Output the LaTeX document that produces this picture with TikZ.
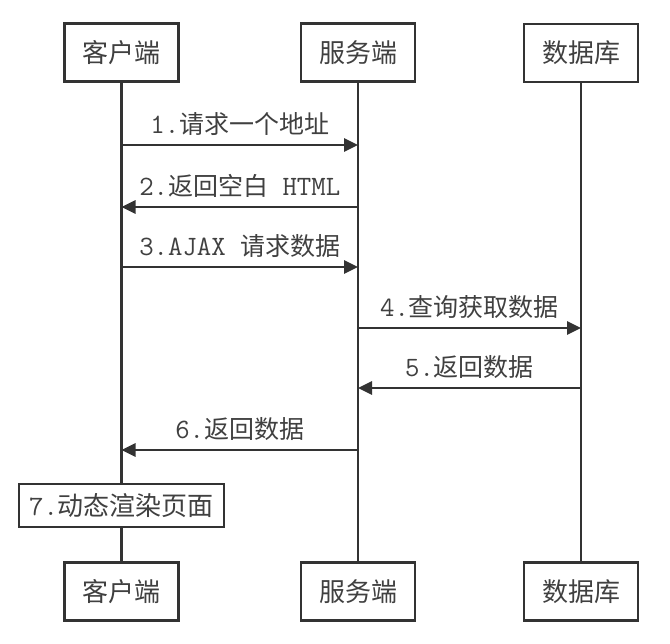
\documentclass[tikz,border=0pt]{standalone}
\usepackage{fontspec}
\setmainfont{Noto Sans CJK SC}
\usetikzlibrary{arrows.meta}
\newcommand\en[1]{{\ttfamily\fontsize{28}{28}\selectfont #1}}
\tikzset{
  actor/.style={draw=black!80,line width=2.8pt,fill=white,minimum width=114pt,
    minimum height=58pt,inner sep=0pt,text=black!75,font=\fontsize{26}{28}\selectfont},
  task/.style={actor,minimum width=205pt,minimum height=43pt},
  life/.style={draw=black!80,line width=2.8pt},
  msg/.style={life,->},
  lbl/.style={above=6pt,inner sep=2pt,text=black!75,font=\fontsize{25}{27}\selectfont}
}
\begin{document}
\begin{tikzpicture}[>={Triangle[length=14pt,width=13pt]},x=1pt,y=-1pt]
  \useasboundingbox (0,0) rectangle (670,644);
  % participants, top and bottom
  \node[actor] (cli) at (121.5,52.5) {客户端};
  \node[actor] (srv) at (358,52.5) {服务端};
  \node[actor] (db) at (581,53) {数据库};
  \node[actor] (cliB) at (121.5,591.5) {客户端};
  \node[actor] (srvB) at (358,591.5) {服务端};
  \node[actor] (dbB) at (581,591.5) {数据库};
  \node[task] (render) at (121.5,505.5) {\en{7.}动态渲染页面};
  % lifelines
  \draw[life] (cli) -- (render) -- (cliB);
  \draw[life] (srv) -- (srvB);
  \draw[life] (db) -- (dbB);
  % message heights
  \coordinate (m1) at (0,145);
  \coordinate (m2) at (0,207);
  \coordinate (m3) at (0,267);
  \coordinate (m4) at (0,328);
  \coordinate (m5) at (0,388);
  \coordinate (m6) at (0,450);
  % messages
  \draw[msg] (cli |- m1) -- (srv |- m1) node[midway,lbl] {\en{1.}请求一个地址};
  \draw[msg] (srv |- m2) -- (cli |- m2) node[midway,lbl] {\en{2.}返回空白\en{ HTML}};
  \draw[msg] (cli |- m3) -- (srv |- m3) node[midway,lbl] {\en{3.AJAX }请求数据};
  \draw[msg] (srv |- m4) -- (db |- m4) node[midway,lbl] {\en{4.}查询获取数据};
  \draw[msg] (db |- m5) -- (srv |- m5) node[midway,lbl] {\en{5.}返回数据};
  \draw[msg] (srv |- m6) -- (cli |- m6) node[midway,lbl] {\en{6.}返回数据};
\end{tikzpicture}
\end{document}
